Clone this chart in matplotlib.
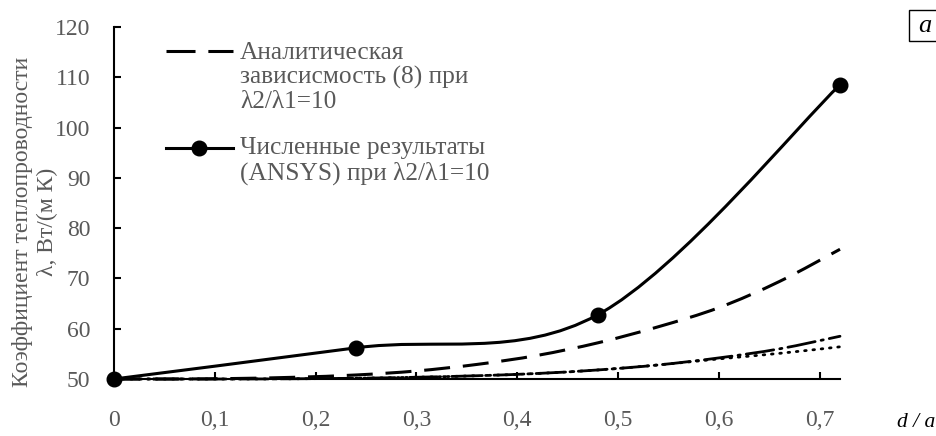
import numpy as np
import matplotlib
matplotlib.use("Agg")
import matplotlib.pyplot as plt
from matplotlib.path import Path
from matplotlib.patches import PathPatch, Rectangle
from matplotlib.lines import Line2D

plt.rcParams['font.family'] = ['Liberation Serif', 'DejaVu Serif']

# ---- data ----
x_num = [0, 0.24, 0.48, 0.72]
y_num = [50, 56.2, 62.8, 108.5]

x_an = [0, 0.06, 0.12, 0.18, 0.24, 0.30, 0.36, 0.42, 0.48, 0.54, 0.60, 0.66, 0.72]
y_dash = [50, 50.0, 50.1, 50.35, 50.8, 51.6, 52.9, 54.7, 57.2, 60.4, 64.2, 69.4, 75.8]
y_dashdot = [50, 50.0, 50.0, 50.05, 50.15, 50.35, 50.65, 51.1, 51.8, 52.8, 54.2, 56.0, 58.5]
y_dot = [50, 50.0, 50.0, 50.05, 50.15, 50.35, 50.65, 51.1, 51.8, 52.8, 54.0, 55.1, 56.4]

x_ticks = [0, 0.1, 0.2, 0.3, 0.4, 0.5, 0.6, 0.7]
x_ticklabels = ['0', '0,1', '0,2', '0,3', '0,4', '0,5', '0,6', '0,7']
y_ticks = [50, 60, 70, 80, 90, 100, 110, 120]

label_an = 'Аналитическая\nзависисмость (8) при\nλ2/λ1=10'
label_num = 'Численные результаты\n(ANSYS) при λ2/λ1=10'
ylabel = 'Коэффициент теплопроводности\nλ, Вт/(м К)'

GRAY = '#595959'
W, H = 937, 436


def smooth_path(xs, ys):
    """Excel-like smoothed line as cubic Bezier path (Catmull-Rom control points)."""
    pts = np.column_stack([xs, ys]).astype(float)
    n = len(pts)
    verts = [pts[0]]
    codes = [Path.MOVETO]
    for i in range(n - 1):
        p0 = pts[i - 1] if i > 0 else pts[i]
        p1 = pts[i]
        p2 = pts[i + 1]
        p3 = pts[i + 2] if i + 2 < n else pts[i + 1]
        c1 = p1 + (p2 - p0) / 6.0
        c2 = p2 - (p3 - p1) / 6.0
        verts += [c1, c2, p2]
        codes += [Path.CURVE4] * 3
    return Path(verts, codes)


def fx(px):
    return px / W


def fy(py):
    return 1 - py / H


fig = plt.figure(figsize=(W / 100, H / 100), dpi=100)
ax = fig.add_axes([fx(114), fy(379), (840 - 114) / W, (379 - 27) / H])

ax.set_xlim(0, 0.72)
ax.set_ylim(50, 120)

lw = 2.2
dash_style = (0, (8.5, 4.2))
dashdot_style = (0, (10, 2.2, 0.8, 2.2))
dot_style = (0, (0.6, 2.4))

ax.add_patch(PathPatch(smooth_path(x_an, y_dot), fill=False, lw=2.0,
                       linestyle=dot_style, capstyle='round', edgecolor='black',
                       clip_on=False, zorder=3))
ax.add_patch(PathPatch(smooth_path(x_an, y_dashdot), fill=False, lw=2.0,
                       linestyle=dashdot_style, capstyle='round', edgecolor='black',
                       clip_on=False, zorder=3))
ax.add_patch(PathPatch(smooth_path(x_an, y_dash), fill=False, lw=lw,
                       linestyle=dash_style, capstyle='butt', edgecolor='black',
                       clip_on=False, zorder=3))
ax.add_patch(PathPatch(smooth_path(x_num, y_num), fill=False, lw=lw,
                       linestyle='-', edgecolor='black', clip_on=False, zorder=4))
ax.plot(x_num, y_num, 'o', color='black', ms=10.5, clip_on=False, zorder=5)

for s in ['top', 'right']:
    ax.spines[s].set_visible(False)
for s in ['left', 'bottom']:
    ax.spines[s].set_linewidth(1.5)
    ax.spines[s].set_color('black')

ax.set_xticks(x_ticks)
ax.set_xticklabels(x_ticklabels)
ax.set_yticks(y_ticks)
ax.tick_params(axis='both', direction='in', length=5, width=1.5,
               labelsize=17, colors='black')
ax.tick_params(axis='x', pad=22)
ax.tick_params(axis='y', pad=17)
for t in ax.get_xticklabels() + ax.get_yticklabels():
    t.set_color(GRAY)

# y axis label (two centred lines)
fig.text(fx(35), fy(222), ylabel, fontsize=17, color=GRAY, rotation=90,
         ha='center', va='center', multialignment='center', linespacing=1.22)

# legend drawn by hand so the handles sit on the first line of each label
leg_x0, leg_x1, txt_x = 166, 233, 240
fig.add_artist(Line2D([fx(leg_x0), fx(leg_x1)], [fy(51), fy(51)], transform=fig.transFigure,
                      color='black', lw=lw, linestyle=(0, (9.5, 4.2))))
fig.add_artist(Line2D([fx(leg_x0), fx(leg_x1)], [fy(148), fy(148)], transform=fig.transFigure,
                      color='black', lw=lw))
fig.add_artist(Line2D([fx((leg_x0 + leg_x1) / 2)], [fy(148)], transform=fig.transFigure,
                      color='black', marker='o', ms=10.5, lw=0))
fig.text(fx(txt_x), fy(42), label_an, fontsize=18.3, color=GRAY, ha='left', va='top',
         linespacing=1.12)
fig.text(fx(txt_x), fy(137), label_num, fontsize=18.3, color=GRAY, ha='left', va='top',
         linespacing=1.12)

fig.text(fx(916), fy(422), 'd / a', fontsize=15.5, style='italic', color='black',
         ha='center', va='center')
fig.add_artist(Rectangle((fx(909), fy(41)), fx(40), 31 / H, transform=fig.transFigure,
                         facecolor='white', edgecolor='black', lw=1))
fig.text(fx(925), fy(26), 'a', fontsize=19, style='italic', color='black',
         ha='center', va='center')

fig.savefig('out.png', dpi=100)
